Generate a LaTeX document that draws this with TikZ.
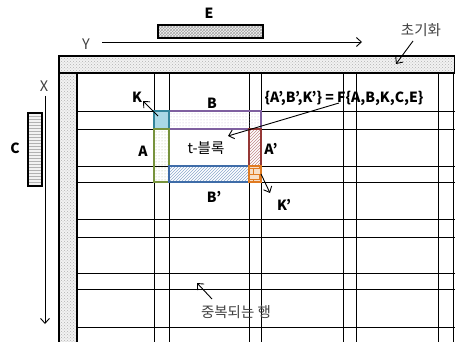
\documentclass[tikz,border=0pt]{standalone}
\usepackage{fontspec}
\setmainfont{Noto Sans CJK KR}
\usetikzlibrary{patterns,arrows.meta,calc}
\definecolor{kfill}{HTML}{A9D8E6}
\definecolor{kdraw}{HTML}{31849B}
\definecolor{bdraw}{HTML}{7F5FA0}
\definecolor{adraw}{HTML}{77933C}
\definecolor{a2draw}{HTML}{953735}
\definecolor{b2draw}{HTML}{3E6CA8}
\definecolor{k2draw}{HTML}{E07A20}
\begin{document}
\begin{tikzpicture}[x=1pt,y=-1pt,
  gridline/.style={line width=0.9pt},
  barbox/.style={draw, line width=2pt, preaction={fill=gray!10}, pattern=crosshatch dots, pattern color=gray!60},
  blk/.style={draw, line width=1.6pt, inner sep=0pt, outer sep=0pt, anchor=north west},
  lab/.style={font=\bfseries\fontsize{14}{16}\selectfont, inner sep=1pt},
  note/.style={font=\fontsize{14.5}{16}\selectfont, text=black!75, inner sep=1pt},
  arr/.style={-{Straight Barb[length=5pt,width=9pt]}, line width=0.9pt}]
\useasboundingbox (0,0) rectangle (455,342);

% grid lines
\foreach \x in {154,169,249,261,343,356,438,453}
  \draw[gridline] (\x,73) -- (\x,342);
\foreach \y in {111,129,166,182,219,237,273,289,327}
  \draw[gridline] (77,\y) -- (455,\y);

% initialization bars
\path[barbox] (59,56) rectangle (455,73);
\path[barbox] (59,73) rectangle (77,343);

% E and C bars
\node[draw, line width=2pt, inner sep=0pt, anchor=north west, minimum width=105pt, minimum height=13pt,
  preaction={fill=gray!10}, pattern=crosshatch, pattern color=gray!70] (ebar) at (157,24) {};
\node[draw, line width=2.2pt, inner sep=0pt, anchor=north west, minimum width=14pt, minimum height=73pt,
  preaction={fill=gray!10}, pattern=horizontal lines, pattern color=gray!60] (cbar) at (27,112) {};

% colored blocks
\node[blk, draw=bdraw, pattern=dots, pattern color=bdraw!50, minimum width=92pt, minimum height=18pt] (bblk) at (169,111) {};
\node[blk, draw=kdraw, fill=kfill, minimum width=15pt, minimum height=18pt] (kblk) at (154,111) {};
\node[blk, draw=adraw, pattern=dots, pattern color=adraw!60, minimum width=15pt, minimum height=53pt] (ablk) at (154,129) {};
\node[blk, draw=b2draw, pattern=north east lines, pattern color=b2draw!60, minimum width=80pt, minimum height=16pt] (b2blk) at (169,166) {};
\node[blk, draw=a2draw, pattern=north east lines, pattern color=a2draw!60, minimum width=12pt, minimum height=37pt] (a2blk) at (249,129) {};
\node[blk, draw=k2draw, preaction={fill=k2draw!25}, pattern=bricks, pattern color=k2draw, minimum width=12pt, minimum height=16pt] (k2blk) at (249,166) {};

% labels
\node[lab] (elab) at (209,13) {E};
\node[lab] (clab) at (15,148) {C};
\node[note] (ylab) at (86,44) {Y};
\node[note] (xlab) at (44,86) {X};
\node[note] (init) at (421,30) {초기화};
\node[note] (dup) at (236,312) {중복되는 행};
\node[lab] (klab) at (137,97) {K};
\node[lab] (blab) at (212,103) {B};
\node[lab] (alab) at (143,151) {A};
\node[font=\fontsize{14.5}{16}\selectfont, inner sep=1pt] (tlab) at (206,148) {t-블록};
\node[lab] (a2lab) at (271,149) {A’};
\node[lab] (b2lab) at (214,197) {B’};
\node[lab] (k2lab) at (284,205) {K’};
\node[lab] (flab) at (344,98) {\{A’,B’,K’\} = F\{A,B,K,C,E\}};

% arrow end points
\coordinate (ystart) at (102,42);
\coordinate (yend) at (362,42);
\coordinate (xstart) at (45,96);
\coordinate (xend) at (45,324);
\coordinate (fstart) at (339,103);
\coordinate (ttip) at (228,136);
\coordinate (inittail) at (413,41);
\coordinate (inittip) at (396,64);
\coordinate (duptail) at (212,299);
\coordinate (duptip) at (197,283);
\coordinate (ktip) at (143,101);
\coordinate (k2tip) at (270,193);

% arrows
\draw[arr] (ystart) -- (yend);
\draw[arr] (xstart) -- (xend);
\draw[arr] (fstart) -- (ttip);
\draw[arr] (inittail) -- (inittip);
\draw[arr] (duptail) -- (duptip);
\draw[arr] ($(kblk.north west)+(4,5)$) -- (ktip);
\draw[arr] (k2blk.east) -- (k2tip);
\end{tikzpicture}
\end{document}
